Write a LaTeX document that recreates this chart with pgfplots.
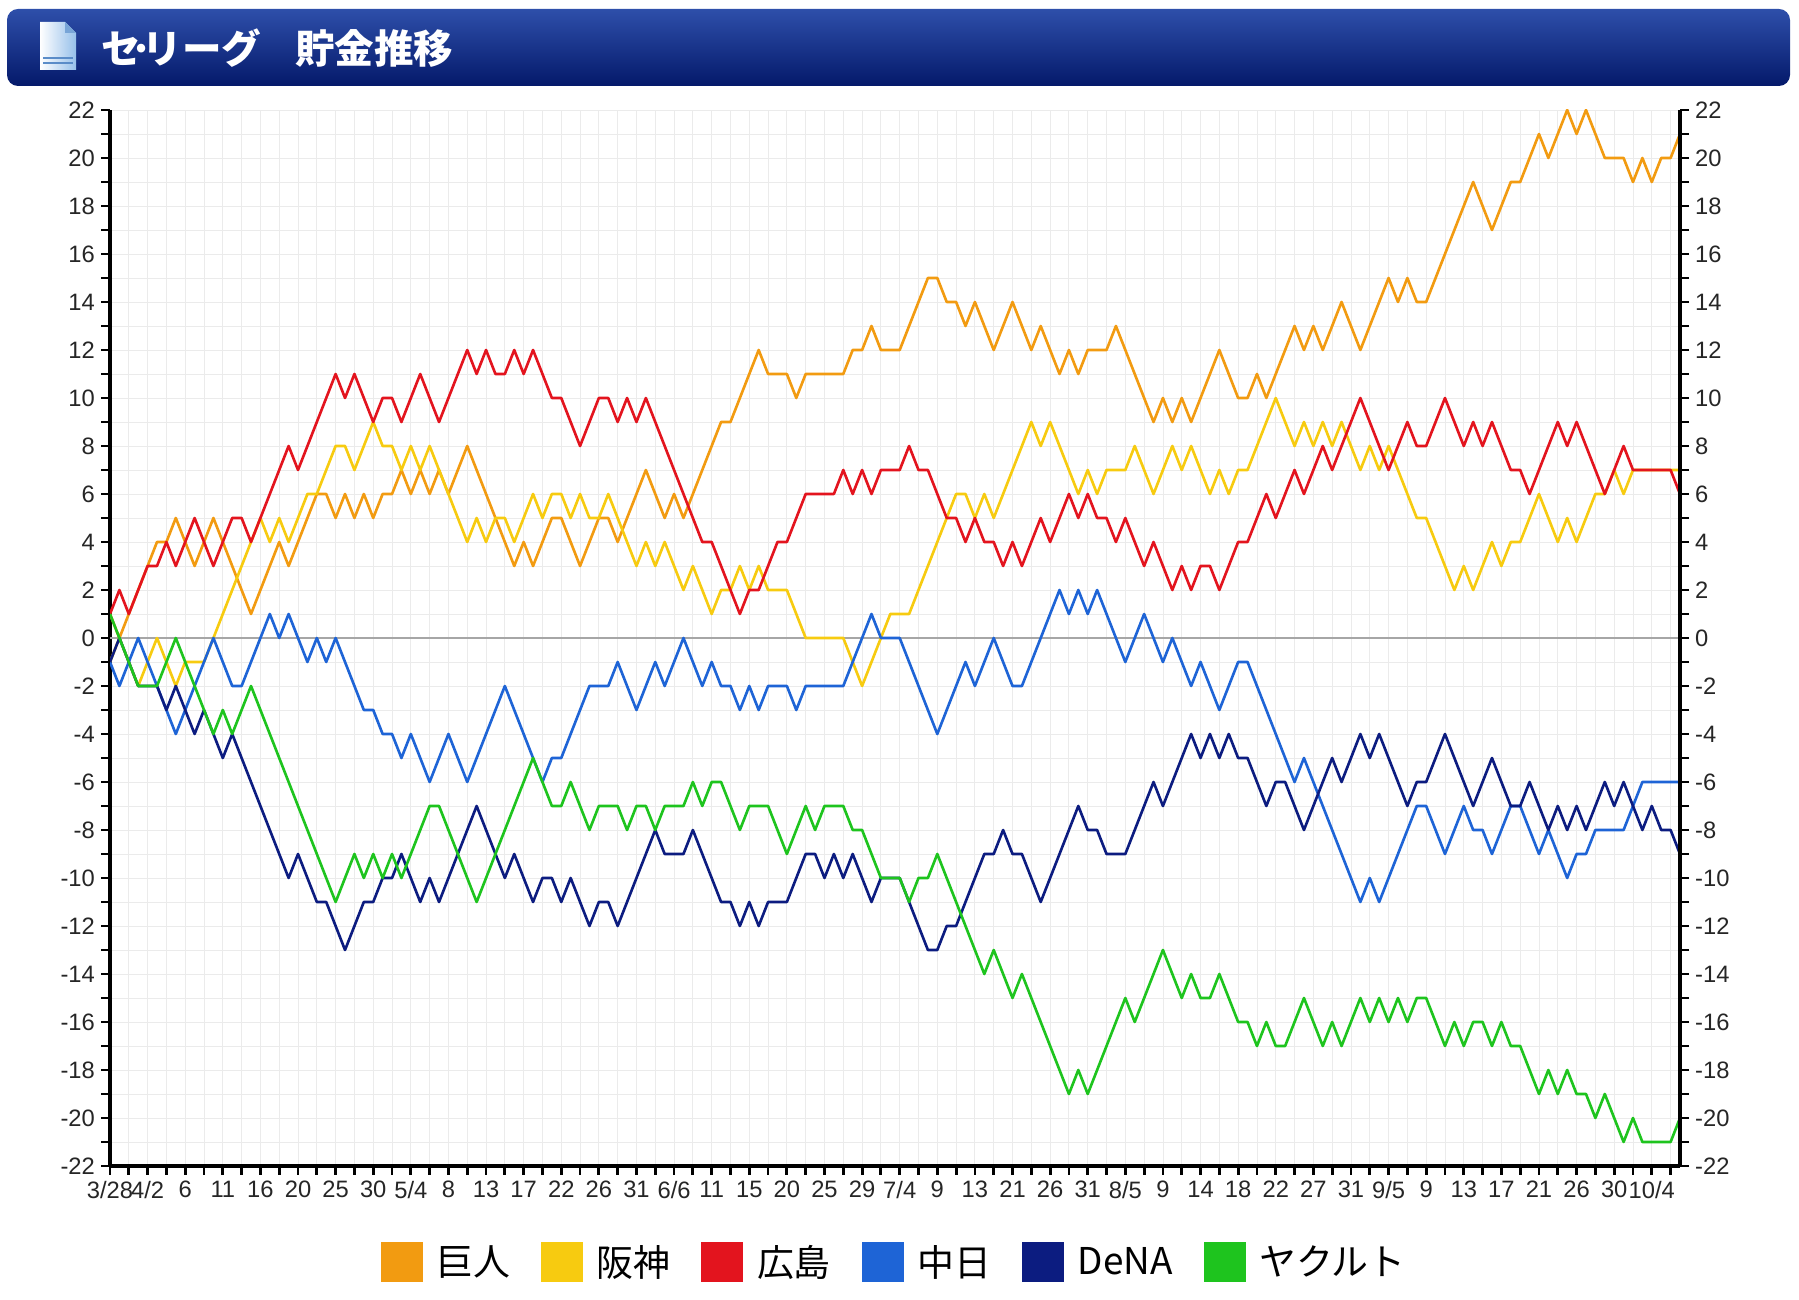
\documentclass[border=0pt]{standalone}
\usepackage{fontspec}
\setmainfont{Liberation Sans}
\newfontfamily\cjk{Noto Sans CJK JP}
\usepackage{pgfplots}
\pgfplotsset{compat=1.18}
\definecolor{cG}{HTML}{F29B11}
\definecolor{cT}{HTML}{F7CB10}
\definecolor{cC}{HTML}{E3141E}
\definecolor{cD}{HTML}{1E64D6}
\definecolor{cB}{HTML}{0C1C80}
\definecolor{cS}{HTML}{1EC41E}
\definecolor{barTop}{HTML}{2E4FAA}
\definecolor{barBot}{HTML}{04196A}
\definecolor{icR}{HTML}{96C0EA}
\definecolor{icF}{HTML}{78A5D7}
\definecolor{icL}{HTML}{5A8CC8}
\begin{document}
\begin{tikzpicture}
\useasboundingbox (0,0) rectangle (35.98cm,26cm);
% title bar
\shade[top color=barTop, bottom color=barBot, rounded corners=0.22cm] (0.14cm,24.28cm) rectangle (35.8cm,25.82cm);
\shade[left color=white, right color=icR] (0.8cm,24.6cm) -- (0.8cm,25.56cm) -- (1.3cm,25.56cm) -- (1.52cm,25.34cm) -- (1.52cm,24.6cm) -- cycle;
\fill[icF] (1.3cm,25.56cm) -- (1.3cm,25.34cm) -- (1.52cm,25.34cm) -- cycle;
\draw[icL, line width=1pt] (0.86cm,24.74cm) -- (1.46cm,24.74cm) (0.86cm,24.84cm) -- (1.46cm,24.84cm);
\node[anchor=west, text=white, inner sep=0pt, font=\cjk\bfseries\fontsize{22.5}{26}\selectfont] at (2.02cm,25.04cm) {セ\hspace{-0.28em}·\hspace{-0.28em}リーグ\hspace{0.85em}貯金推移};

\begin{axis}[
  at={(2.2cm,2.68cm)}, anchor=south west,
  width=31.4cm, height=21.12cm, scale only axis,
  xmin=0, xmax=167, ymin=-22, ymax=22,
  axis x line*=bottom, axis y line*=left,
  axis line style={-, black, line width=2.2pt},
  every outer x axis line/.append style={-},
  every outer y axis line/.append style={-},
  xtick={0,4,...,164}, minor xtick={2,6,...,166},
  xticklabels={3/28,4/2,6,11,16,20,25,30,5/4,8,13,17,22,26,31,6/6,11,15,20,25,29,7/4,9,13,21,26,31,8/5,9,14,18,22,27,31,9/5,9,13,17,21,26,30,10/4},
  ytick={-22,-20,...,22}, minor ytick={-21,-19,...,21},
  tick align=outside,
  major tick length=0.18cm, minor tick length=0.18cm,
  every tick/.style={black, line width=1.6pt},
  grid=both,
  major grid style={black!8, line width=0.5pt},
  minor grid style={black!8, line width=0.5pt},
  ticklabel style={font=\fontsize{13.5}{15}\selectfont, text=black!85},
  /pgf/number format/assume math mode=true,
  legend columns=6,
  legend style={at={(0.5,-0.091)}, anchor=center, draw=none, fill=none,
    font=\cjk\fontsize{21}{24}\selectfont,
    /tikz/every odd column/.append style={column sep=0.2cm},
    /tikz/every even column/.append style={column sep=0.55cm}},
  legend image code/.code={\fill[#1, draw=none] (0cm,-0.4cm) rectangle (0.84cm,0.4cm);},
  every axis plot/.append style={line width=1.5pt, line join=round},
]
\addplot[gray!70, line width=1pt, forget plot] coordinates {(0,0) (167,0)};

% 巨人
\addplot[cG] coordinates {(0,1)(1,0)(2,1)(4,3)(5,4)(6,4)(7,5)(9,3)(11,5)(15,1)(18,4)(19,3)(22,6)(23,6)(24,5)(25,6)(26,5)(27,6)(28,5)(29,6)(30,6)(31,7)(32,6)(33,7)(34,6)(35,7)(36,6)(38,8)(41,5)(43,3)(44,4)(45,3)(47,5)(48,5)(50,3)(52,5)(53,5)(54,4)(57,7)(59,5)(60,6)(61,5)(65,9)(66,9)(69,12)(70,11)(72,11)(73,10)(74,11)(78,11)(79,12)(80,12)(81,13)(82,12)(84,12)(87,15)(88,15)(89,14)(90,14)(91,13)(92,14)(94,12)(96,14)(98,12)(99,13)(101,11)(102,12)(103,11)(104,12)(106,12)(107,13)(111,9)(112,10)(113,9)(114,10)(115,9)(118,12)(120,10)(121,10)(122,11)(123,10)(126,13)(127,12)(128,13)(129,12)(131,14)(133,12)(136,15)(137,14)(138,15)(139,14)(140,14)(145,19)(147,17)(149,19)(150,19)(152,21)(153,20)(155,22)(156,21)(157,22)(159,20)(161,20)(162,19)(163,20)(164,19)(165,20)(166,20)(167,21)};
\addlegendentry{巨人}
% 阪神
\addplot[cT] coordinates {(0,-1)(1,0)(3,-2)(5,0)(7,-2)(8,-1)(10,-1)(11,0)(16,5)(17,4)(18,5)(19,4)(21,6)(22,6)(24,8)(25,8)(26,7)(28,9)(29,8)(30,8)(31,7)(32,8)(33,7)(34,8)(35,7)(38,4)(39,5)(40,4)(41,5)(42,5)(43,4)(45,6)(46,5)(47,6)(48,6)(49,5)(50,6)(51,5)(52,5)(53,6)(54,5)(56,3)(57,4)(58,3)(59,4)(61,2)(62,3)(64,1)(65,2)(66,2)(67,3)(68,2)(69,3)(70,2)(72,2)(74,0)(78,0)(80,-2)(83,1)(85,1)(90,6)(91,6)(92,5)(93,6)(94,5)(98,9)(99,8)(100,9)(103,6)(104,7)(105,6)(106,7)(108,7)(109,8)(111,6)(113,8)(114,7)(115,8)(117,6)(118,7)(119,6)(120,7)(121,7)(124,10)(126,8)(127,9)(128,8)(129,9)(130,8)(131,9)(133,7)(134,8)(135,7)(136,8)(139,5)(140,5)(143,2)(144,3)(145,2)(147,4)(148,3)(149,4)(150,4)(152,6)(154,4)(155,5)(156,4)(158,6)(159,6)(160,7)(161,6)(162,7)(167,7)};
\addlegendentry{阪神}
% 広島
\addplot[cC] coordinates {(0,1)(1,2)(2,1)(4,3)(5,3)(6,4)(7,3)(9,5)(11,3)(13,5)(14,5)(15,4)(19,8)(20,7)(24,11)(25,10)(26,11)(28,9)(29,10)(30,10)(31,9)(33,11)(35,9)(38,12)(39,11)(40,12)(41,11)(42,11)(43,12)(44,11)(45,12)(47,10)(48,10)(50,8)(52,10)(53,10)(54,9)(55,10)(56,9)(57,10)(63,4)(64,4)(67,1)(68,2)(69,2)(71,4)(72,4)(74,6)(77,6)(78,7)(79,6)(80,7)(81,6)(82,7)(84,7)(85,8)(86,7)(87,7)(89,5)(90,5)(91,4)(92,5)(93,4)(94,4)(95,3)(96,4)(97,3)(99,5)(100,4)(102,6)(103,5)(104,6)(105,5)(106,5)(107,4)(108,5)(110,3)(111,4)(113,2)(114,3)(115,2)(116,3)(117,3)(118,2)(120,4)(121,4)(123,6)(124,5)(126,7)(127,6)(129,8)(130,7)(133,10)(136,7)(138,9)(139,8)(140,8)(142,10)(144,8)(145,9)(146,8)(147,9)(149,7)(150,7)(151,6)(154,9)(155,8)(156,9)(159,6)(161,8)(162,7)(166,7)(167,6)};
\addlegendentry{広島}
% 中日
\addplot[cD] coordinates {(0,-1)(1,-2)(3,0)(7,-4)(11,0)(13,-2)(14,-2)(17,1)(18,0)(19,1)(21,-1)(22,0)(23,-1)(24,0)(27,-3)(28,-3)(29,-4)(30,-4)(31,-5)(32,-4)(34,-6)(36,-4)(38,-6)(42,-2)(46,-6)(47,-5)(48,-5)(51,-2)(53,-2)(54,-1)(56,-3)(58,-1)(59,-2)(61,0)(63,-2)(64,-1)(65,-2)(66,-2)(67,-3)(68,-2)(69,-3)(70,-2)(72,-2)(73,-3)(74,-2)(78,-2)(81,1)(82,0)(84,0)(88,-4)(91,-1)(92,-2)(94,0)(96,-2)(97,-2)(101,2)(102,1)(103,2)(104,1)(105,2)(108,-1)(110,1)(112,-1)(113,0)(115,-2)(116,-1)(118,-3)(120,-1)(121,-1)(126,-6)(127,-5)(133,-11)(134,-10)(135,-11)(139,-7)(140,-7)(142,-9)(144,-7)(145,-8)(146,-8)(147,-9)(149,-7)(150,-7)(152,-9)(153,-8)(155,-10)(156,-9)(157,-9)(158,-8)(161,-8)(163,-6)(167,-6)};
\addlegendentry{中日}
% DeNA
\addplot[cB] coordinates {(0,-1)(1,0)(3,-2)(5,-2)(6,-3)(7,-2)(8,-3)(9,-4)(10,-3)(12,-5)(13,-4)(19,-10)(20,-9)(22,-11)(23,-11)(25,-13)(27,-11)(28,-11)(29,-10)(30,-10)(31,-9)(33,-11)(34,-10)(35,-11)(39,-7)(42,-10)(43,-9)(45,-11)(46,-10)(47,-10)(48,-11)(49,-10)(51,-12)(52,-11)(53,-11)(54,-12)(58,-8)(59,-9)(61,-9)(62,-8)(65,-11)(66,-11)(67,-12)(68,-11)(69,-12)(70,-11)(72,-11)(74,-9)(75,-9)(76,-10)(77,-9)(78,-10)(79,-9)(81,-11)(82,-10)(84,-10)(87,-13)(88,-13)(89,-12)(90,-12)(93,-9)(94,-9)(95,-8)(96,-9)(97,-9)(99,-11)(103,-7)(104,-8)(105,-8)(106,-9)(108,-9)(111,-6)(112,-7)(115,-4)(116,-5)(117,-4)(118,-5)(119,-4)(120,-5)(121,-5)(123,-7)(124,-6)(125,-6)(127,-8)(130,-5)(131,-6)(133,-4)(134,-5)(135,-4)(138,-7)(139,-6)(140,-6)(142,-4)(145,-7)(147,-5)(149,-7)(150,-7)(151,-6)(153,-8)(154,-7)(155,-8)(156,-7)(157,-8)(159,-6)(160,-7)(161,-6)(163,-8)(164,-7)(165,-8)(166,-8)(167,-9)};
\addlegendentry{DeNA}
% ヤクルト
\addplot[cS] coordinates {(0,1)(3,-2)(5,-2)(7,0)(11,-4)(12,-3)(13,-4)(15,-2)(24,-11)(26,-9)(27,-10)(28,-9)(29,-10)(30,-9)(31,-10)(34,-7)(35,-7)(39,-11)(41,-9)(45,-5)(47,-7)(48,-7)(49,-6)(51,-8)(52,-7)(54,-7)(55,-8)(56,-7)(57,-7)(58,-8)(59,-7)(61,-7)(62,-6)(63,-7)(64,-6)(65,-6)(67,-8)(68,-7)(70,-7)(72,-9)(74,-7)(75,-8)(76,-7)(78,-7)(79,-8)(80,-8)(82,-10)(84,-10)(85,-11)(86,-10)(87,-10)(88,-9)(93,-14)(94,-13)(96,-15)(97,-14)(102,-19)(103,-18)(104,-19)(108,-15)(109,-16)(112,-13)(114,-15)(115,-14)(116,-15)(117,-15)(118,-14)(120,-16)(121,-16)(122,-17)(123,-16)(124,-17)(125,-17)(127,-15)(129,-17)(130,-16)(131,-17)(133,-15)(134,-16)(135,-15)(136,-16)(137,-15)(138,-16)(139,-15)(140,-15)(142,-17)(143,-16)(144,-17)(145,-16)(146,-16)(147,-17)(148,-16)(149,-17)(150,-17)(152,-19)(153,-18)(154,-19)(155,-18)(156,-19)(157,-19)(158,-20)(159,-19)(161,-21)(162,-20)(163,-21)(166,-21)(167,-20)};
\addlegendentry{ヤクルト}
\end{axis}

\begin{axis}[
  at={(2.2cm,2.68cm)}, anchor=south west,
  width=31.4cm, height=21.12cm, scale only axis,
  xmin=0, xmax=167, ymin=-22, ymax=22,
  axis x line=none, axis y line*=right,
  axis line style={-, black, line width=2.2pt},
  every outer y axis line/.append style={-},
  ytick={-22,-20,...,22}, minor ytick={-21,-19,...,21},
  tick align=outside,
  major tick length=0.18cm, minor tick length=0.18cm,
  every tick/.style={black, line width=1.6pt},
  ticklabel style={font=\fontsize{13.5}{15}\selectfont, text=black!85},
  /pgf/number format/assume math mode=true,
]
\addplot[draw=none, forget plot] coordinates {(0,0) (1,1)};
\end{axis}
\end{tikzpicture}
\end{document}
